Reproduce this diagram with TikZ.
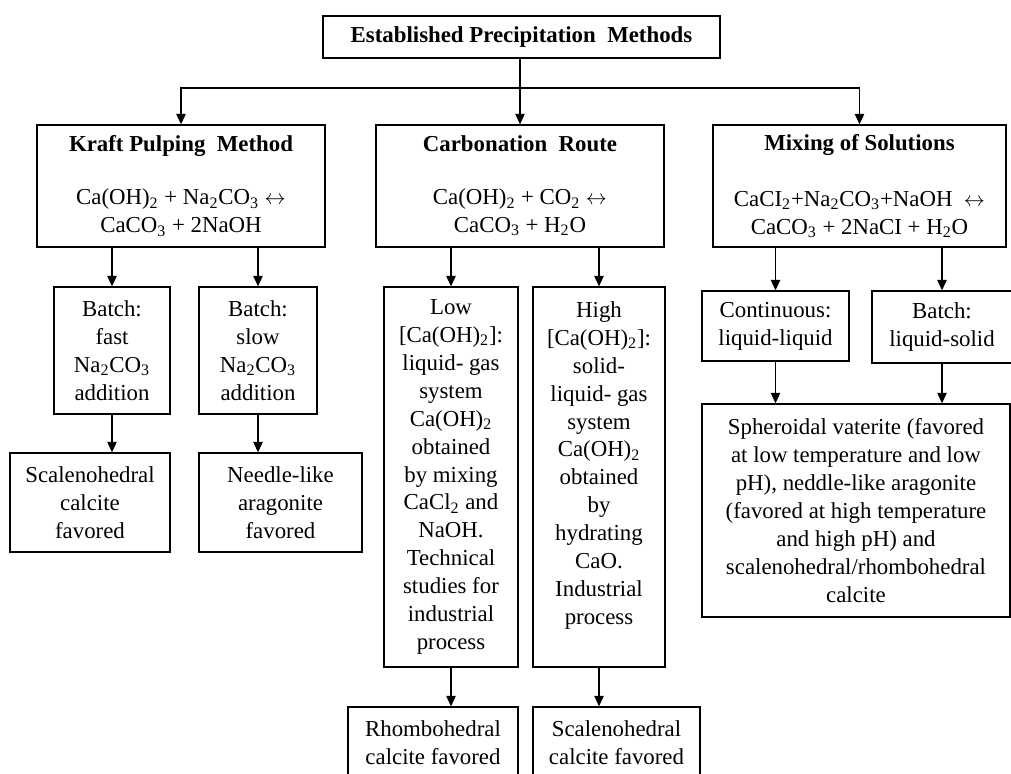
\documentclass[tikz,border=0pt]{standalone}
\usepackage{fontspec}
\setmainfont{Liberation Serif}
\usetikzlibrary{arrows.meta}

\newcommand{\sub}[1]{\textsubscript{#1}}

\begin{document}
\begin{tikzpicture}[x=0.02cm, y=-0.02cm,
    box/.style={draw, line width=0.8pt, align=center, inner sep=0pt,
      font=\fontsize{13pt}{15.9pt}\selectfont},
    arr/.style={line width=0.6pt, -{Triangle[length=0.21cm, width=0.19cm]}}]

   \useasboundingbox (0,0) rectangle (1011,774);
   \clip (0,0) rectangle (1011,774);

   % top level
   \node [box, minimum width=7.94cm, minimum height=0.84cm] (top) at (521.5,37)
      {\textbf{Established Precipitation\ \ Methods}};

   \node [box, minimum width=5.76cm, minimum height=2.44cm] (kraft) at (181,186)
      {\textbf{Kraft Pulping\ \ Method}\\[0.5cm]
       Ca(OH)\sub{2} + Na\sub{2}CO\sub{3} $\leftrightarrow$\\
       CaCO\sub{3} + 2NaOH};
   \node [box, minimum width=5.76cm, minimum height=2.44cm] (carb) at (520,186)
      {\textbf{Carbonation\ \ Route}\\[0.5cm]
       Ca(OH)\sub{2} + CO\sub{2} $\leftrightarrow$\\
       CaCO\sub{3} + H\sub{2}O};
   \node [box, minimum width=5.86cm, minimum height=2.44cm] (mix) at (859.5,186)
      {\textbf{Mixing of Solutions}\\[0.56cm]
       CaCI\sub{2}+Na\sub{2}CO\sub{3}+NaOH\ \ $\leftrightarrow$\\
       CaCO\sub{3} + 2NaCI + H\sub{2}O};

   % kraft branch
   \node [box, minimum width=2.32cm, minimum height=2.54cm] (fast) at (112,350.5)
      {Batch:\\ fast\\ Na\sub{2}CO\sub{3}\\ addition};
   \node [box, minimum width=2.36cm, minimum height=2.54cm] (slow) at (258,350.5)
      {Batch:\\ slow\\ Na\sub{2}CO\sub{3}\\ addition};
   \node [box, minimum width=3.2cm, minimum height=1.98cm] (scal) at (90,502.5)
      {Scalenohedral\\ calcite\\ favored};
   \node [box, minimum width=3.26cm, minimum height=1.98cm] (needle) at (280.5,502.5)
      {Needle-like\\ aragonite\\ favored};

   % carbonation branch
   \node [box, minimum width=2.68cm, minimum height=7.6cm] (low) at (451,477)
      {Low\\ {[}Ca(OH)\sub{2}{]}:\\ liquid- gas\\ system\\ Ca(OH)\sub{2}\\ obtained\\
       by mixing\\ CaCl\sub{2} and\\ NaOH.\\ Technical\\ studies for\\ industrial\\ process};
   \node [box, minimum width=2.64cm, minimum height=7.6cm] (high) at (599,477)
      {High\\ {[}Ca(OH)\sub{2}{]}:\\ solid-\\ liquid- gas\\ system\\ Ca(OH)\sub{2}\\ obtained\\
       by\\ hydrating\\ CaO.\\ Industrial\\ process\\ ~};
   \node [box, minimum width=3.4cm, minimum height=2cm] (rhombo) at (433,757)
      {Rhombohedral\\ calcite favored\\ ~};
   \node [box, minimum width=3.34cm, minimum height=2cm] (scaltwo) at (616.5,757)
      {Scalenohedral\\ calcite favored\\ ~};

   % mixing branch
   \node [box, minimum width=2.94cm, minimum height=1.4cm] (cont) at (775.5,326)
      {Continuous:\\ liquid-liquid};
   \node [box, minimum width=2.8cm, minimum height=1.44cm] (batch) at (942,327)
      {Batch:\\ liquid-solid};
   \node [box, minimum width=6.16cm, minimum height=4.26cm] (spher) at (856,510.5)
      {Spheroidal vaterite (favored\\ at low temperature and low\\
       pH), neddle-like aragonite\\ (favored at high temperature\\
       and high pH) and\\ scalenohedral/rhombohedral\\ calcite};

   % connectors
   \coordinate (split) at (520,88);
   \draw [line width=0.6pt] (top.south -| split) -- (split);
   \foreach \j in {kraft, carb, mix}
      \draw [arr] (split) -| (\j.north);

   \foreach \i/\j in {kraft/fast, kraft/slow, carb/low, carb/high, mix/cont, mix/batch}
      \draw [arr] (\j.north |- \i.south) -- (\j.north);

   \foreach \i/\j in {fast/scal, slow/needle, low/rhombo, high/scaltwo, cont/spher, batch/spher}
      \draw [arr] (\i.south) -- (\i.south |- \j.north);

\end{tikzpicture}
\end{document}
